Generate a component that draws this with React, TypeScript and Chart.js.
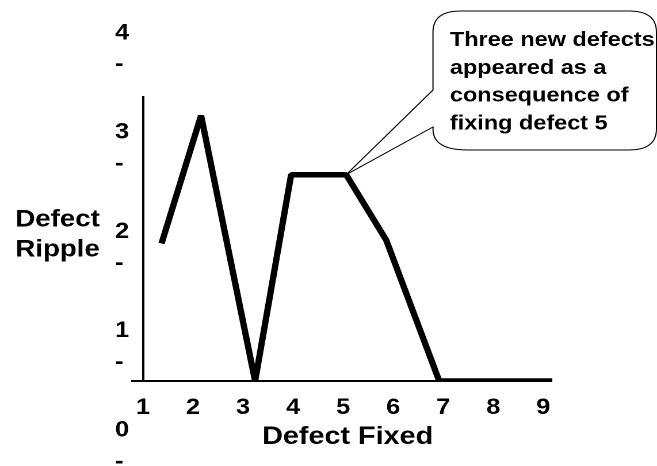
import React, { useEffect, useRef } from 'react';
import { Chart, registerables } from 'chart.js';

Chart.register(...registerables);

// ---- data ----
const xTickValues = [1, 2, 3, 4, 5, 6, 7, 8, 9];
const defectX = [1.37, 2.16, 3.24, 3.96, 5.06, 5.86, 6.92, 8.0, 9.18];
const rippleValues = [2.0, 3.86, 0, 3.0, 3.0, 2.05, 0, 0, 0];
const yTickValues = [0, 1, 2, 3, 4];
const yTickLabels = ['0', '1', '2', '3', '4'];
const xTitle = 'Defect Fixed';
const yTitleLines = ['Defect', 'Ripple'];
const calloutLines = ['Three new defects', 'appeared as a', 'consequence of', 'fixing defect 5'];
const calloutIndex = 4; // the point for defect 5

// ---- layout (logical canvas, stretched horizontally to page width) ----
const W = 571;
const H = 466;
const PAGE_W = 657;
const FONT = "'Liberation Sans', Arial, Helvetica, sans-serif";
const AREA_LEFT = 124.3;
const AREA_RIGHT = 480;
const AREA_TOP = 97;
const AREA_BOTTOM = 381;
const LABEL_LEFT = 100;
const STUB = 10.4;

const decorPlugin = {
  id: 'decor',
  beforeDatasetsDraw(chart: any) {
    const ctx = chart.ctx as CanvasRenderingContext2D;
    const xs = chart.scales.x;
    const ys = chart.scales.y;
    const tipX = xs.getPixelForValue(defectX[calloutIndex]);
    const tipY = ys.getPixelForValue(rippleValues[calloutIndex]);
    const L = 376.3, T = 11, R = 570.5, B = 150, rx = 24, ry = 21, rxb = 30;
    ctx.save();
    ctx.beginPath();
    ctx.moveTo(L + rx, T);
    ctx.lineTo(R - rx, T);
    ctx.quadraticCurveTo(R, T, R, T + ry);
    ctx.lineTo(R, B - ry);
    ctx.quadraticCurveTo(R, B, R - rx, B);
    ctx.lineTo(L + rxb, B);
    ctx.quadraticCurveTo(L, B, L, B - ry);
    ctx.lineTo(L, 127);
    ctx.lineTo(tipX, tipY);
    ctx.lineTo(L, 90);
    ctx.lineTo(L, T + ry);
    ctx.quadraticCurveTo(L, T, L + rx, T);
    ctx.closePath();
    ctx.fillStyle = '#ffffff';
    ctx.fill();
    ctx.lineWidth = 1;
    ctx.strokeStyle = '#000000';
    ctx.stroke();

    ctx.fillStyle = '#000000';
    ctx.font = `bold 20.4px ${FONT}`;
    ctx.textAlign = 'left';
    ctx.textBaseline = 'alphabetic';
    calloutLines.forEach((t, i) => ctx.fillText(t, 391, 46 + i * 27.8));

    ctx.font = `bold 24px ${FONT}`;
    ctx.textAlign = 'center';
    yTitleLines.forEach((t, i) => ctx.fillText(t, 50, 226.7 + i * 30));
    ctx.restore();
  },
};

export default function App() {
  const ref = useRef<HTMLCanvasElement | null>(null);

  useEffect(() => {
    if (!ref.current) return;
    Chart.defaults.font.family = FONT;
    Chart.defaults.color = '#000';
    const chart = new Chart(ref.current, {
      type: 'line',
      data: {
        datasets: [
          {
            data: defectX.map((x, i) => ({ x, y: rippleValues[i] })),
            borderColor: '#000000',
            borderWidth: 5.5,
            borderJoinStyle: 'bevel',
            pointRadius: 0,
            pointHoverRadius: 0,
            fill: false,
            tension: 0,
          },
        ],
      },
      options: {
        animation: false,
        responsive: false,
        devicePixelRatio: 2,
        events: [],
        layout: { padding: { left: LABEL_LEFT, right: W - AREA_RIGHT, top: AREA_TOP, bottom: 0 } },
        plugins: {
          legend: { display: false },
          tooltip: { enabled: false },
          title: { display: false },
        },
        scales: {
          x: {
            type: 'linear',
            min: 1,
            max: 9.18,
            afterBuildTicks: (s: any) => {
              s.ticks = xTickValues.map((v) => ({ value: v }));
            },
            afterFit: (s: any) => {
              s.height = H - AREA_BOTTOM;
            },
            grid: { display: false, drawTicks: false },
            border: { display: false },
            ticks: {
              autoSkip: false,
              maxRotation: 0,
              padding: 13.5,
              color: '#000',
              font: { size: 22, weight: 'bold', lineHeight: 1.2 },
              callback: (v: any) => String(v),
            },
            title: {
              display: true,
              text: xTitle,
              color: '#000',
              font: { size: 25, weight: 'bold', lineHeight: 1.2 },
              padding: { top: 0, bottom: 14 },
            },
          },
          y: {
            type: 'linear',
            position: 'left',
            weight: 0,
            min: 0,
            max: 4.13,
            afterFit: (s: any) => {
              s.width = STUB;
            },
            ticks: { display: false },
            grid: {
              display: true,
              drawOnChartArea: true,
              drawTicks: true,
              tickLength: STUB,
              lineWidth: 2,
              color: (c: any) => (c.tick && c.tick.value === 0 ? '#000000' : 'rgba(0,0,0,0)'),
            },
            border: { display: true, color: '#000000', width: 2 },
          },
          yl: {
            type: 'linear',
            position: 'left',
            weight: 1,
            min: 0.655,
            max: 3.516,
            afterBuildTicks: (s: any) => {
              s.ticks = yTickValues.map((v) => ({ value: v }));
            },
            afterFit: (s: any) => {
              s.width = AREA_LEFT - LABEL_LEFT - STUB;
            },
            grid: { display: false, drawTicks: false },
            border: { display: false },
            ticks: {
              autoSkip: false,
              crossAlign: 'far',
              padding: 0,
              color: '#000',
              font: { size: 22, weight: 'bold', lineHeight: 1.43 },
              callback: (v: any) => [yTickLabels[yTickValues.indexOf(v)], '-'],
            },
          },
        },
      } as any,
      plugins: [decorPlugin],
    });
    return () => chart.destroy();
  }, []);

  return (
    <div style={{ position: 'fixed', left: 0, top: 0, width: PAGE_W, height: H }}>
      <canvas
        ref={ref}
        width={W}
        height={H}
        style={{ width: PAGE_W + 'px', height: H + 'px', display: 'block' }}
      />
    </div>
  );
}
